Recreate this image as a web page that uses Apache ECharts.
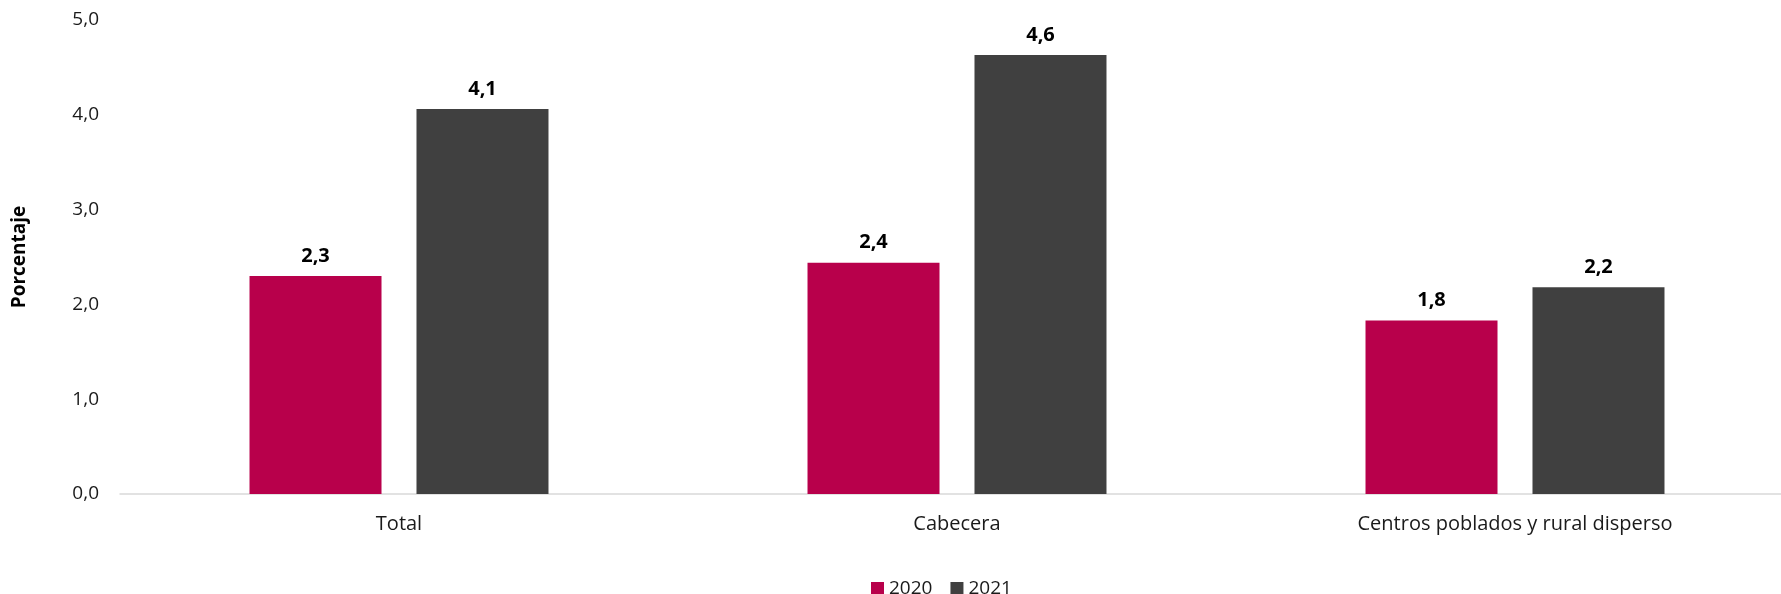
<!DOCTYPE html>
<html>
<head>
<meta charset="utf-8">
<script src="https://cdn.jsdelivr.net/npm/echarts@6/dist/echarts.min.js"></script>
<style>
html,body{margin:0;padding:0;background:#fff;overflow:hidden;width:1781px;height:594px;}
#chart{width:1810px;height:594px;}
</style>
</head>
<body>
<div id="chart"></div>
<script>
const categories = ['Total', 'Cabecera', 'Centros poblados y rural disperso'];
const seriesNames = ['2020', '2021'];
const values2020 = [2.30, 2.44, 1.83];
const values2021 = [4.06, 4.63, 2.18];
const yTicks = [0, 1, 2, 3, 4, 5];

const FONT = '"Open Sans", "Noto Sans", sans-serif';
const fmt = v => v.toFixed(1).replace('.', ',');

const chart = echarts.init(document.getElementById('chart'));
const labelCfg = {
  show: true, position: 'top', distance: 10,
  color: '#000', fontWeight: 'bold', fontSize: 20, fontFamily: FONT,
  formatter: p => fmt(p.value)
};
chart.setOption({
  animation: false,
  backgroundColor: '#fff',
  textStyle: { fontFamily: FONT },
  grid: { left: 120, top: 20, right: 16, bottom: 100, containLabel: false },
  legend: {
    data: seriesNames,
    left: 866, top: 574,
    itemWidth: 13, itemHeight: 13, itemGap: 18,
    icon: 'rect',
    textStyle: { fontSize: 19, color: '#1a1a1a', fontFamily: FONT }
  },
  xAxis: {
    type: 'category',
    data: categories,
    axisLine: { show: true, lineStyle: { color: '#d9d9d9', width: 1.5 } },
    axisTick: { show: false },
    axisLabel: { fontSize: 20, color: '#1a1a1a', margin: 20, fontFamily: FONT }
  },
  yAxis: {
    type: 'value',
    min: yTicks[0], max: yTicks[yTicks.length - 1], interval: 1,
    name: 'Porcentaje',
    nameLocation: 'middle',
    nameGap: 91,
    nameRotate: 90,
    nameTextStyle: { fontSize: 19, fontWeight: 'bold', color: '#000', fontFamily: FONT },
    axisLine: { show: false },
    axisTick: { show: false },
    splitLine: { show: false },
    axisLabel: { fontSize: 19, color: '#1a1a1a', margin: 21, fontFamily: FONT, formatter: v => fmt(v) }
  },
  series: [
    {
      name: seriesNames[0], type: 'bar', data: values2020,
      barWidth: 132, barGap: '26.5%',
      itemStyle: { color: '#B8004B' },
      label: labelCfg
    },
    {
      name: seriesNames[1], type: 'bar', data: values2021,
      barWidth: 132,
      itemStyle: { color: '#404040' },
      label: labelCfg
    }
  ]
});
</script>
</body>
</html>
